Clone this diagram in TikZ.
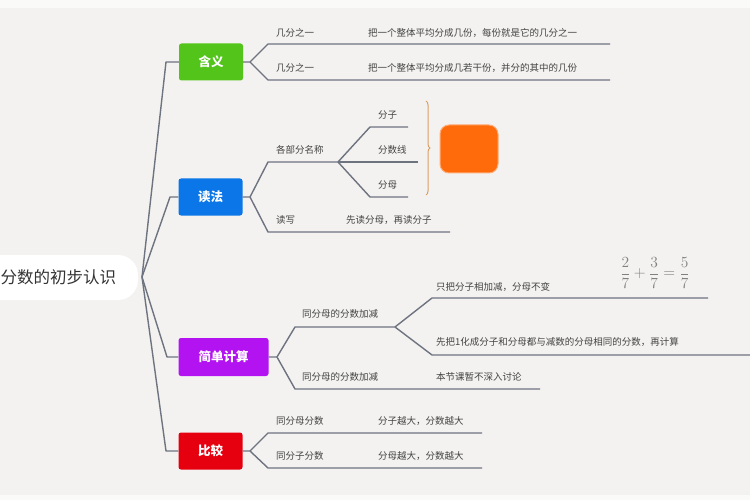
\RequirePackage{fix-cm}
\documentclass[tikz,border=0pt]{standalone}
\usepackage{fontspec}
\newfontfamily\cjk{Noto Sans CJK SC}
\usetikzlibrary{decorations.pathreplacing}
\definecolor{bg}{HTML}{F3F2F0}
\definecolor{ln}{HTML}{6E7380}
\definecolor{tx}{HTML}{444444}
\definecolor{cgreen}{HTML}{52C41A}
\definecolor{cblue}{HTML}{0B76E8}
\definecolor{cpurple}{HTML}{B313F0}
\definecolor{cred}{HTML}{E6000F}
\definecolor{corange}{HTML}{FF6A0A}
\definecolor{cbrace}{HTML}{D9A066}
\begin{document}
\begin{tikzpicture}[x=1pt,y=-1pt,
  conn/.style={draw=ln,line width=1.4pt,line join=round},
  lbl/.style={anchor=west,inner sep=0pt,text=tx,font=\cjk\fontsize{9.5}{11}\selectfont},
  topic/.style={rounded corners=2.5pt,text=white,inner sep=0pt,font=\cjk\bfseries\fontsize{12.5}{14}\selectfont}]
\useasboundingbox (0,0) rectangle (750,500);
\fill[bg] (0,0) rectangle (750,500);
\fill[white!60!bg] (0,0) rectangle (750,8);
\fill[white!60!bg] (0,495) rectangle (750,500);
% root
\fill[white,rounded corners=20pt] (-30,255) rectangle (138,300);
\node[anchor=west,inner sep=0pt,text=black!80,font=\cjk\fontsize{16.5}{18}\selectfont] (root) at (0.5,277) {分数的初步认识};
\coordinate (rj) at (142,277);
% main topics
\node[topic,fill=cgreen,minimum width=64pt,minimum height=37pt] (hy) at (211,62) {含义};
\node[topic,fill=cblue,minimum width=64pt,minimum height=37pt] (df) at (210.5,197) {读法};
\node[topic,fill=cpurple,minimum width=90pt,minimum height=38pt] (js) at (223.5,357) {简单计算};
\node[topic,fill=cred,minimum width=64pt,minimum height=37pt] (bj) at (210.5,451) {比较};
% root connectors
\draw[conn] (rj) -- (166,62) -- (hy.west);
\draw[conn] (rj) -- (170,197) -- (df.west);
\draw[conn] (rj) -- (167,357) -- (js.west);
\draw[conn] (rj) -- (166,451) -- (bj.west);
% 含义
\coordinate (hyj) at (250,62);
\draw[conn] (hy.east) -- (hyj) -- (268,44) -- (610,44);
\draw[conn] (hyj) -- (268,80) -- (610,80);
\node[lbl] (hy1) at (276,33) {几分之一};
\node[lbl] (hy1t) at (368,33) {把一个整体平均分成几份，每份就是它的几分之一};
\node[lbl] (hy2) at (276,68) {几分之一};
\node[lbl] (hy2t) at (368,68) {把一个整体平均分成几若干份，并分的其中的几份};
% 读法
\coordinate (dfj) at (250,197);
\coordinate (mcj) at (338,162);
\draw[conn] (df.east) -- (dfj) -- (268,162) -- (mcj);
\draw[conn] (dfj) -- (268,232) -- (450,232);
\node[lbl] (mc) at (276,150) {各部分名称};
\node[lbl] (dx) at (276,220) {读写};
\node[lbl] (dxt) at (346,220) {先读分母，再读分子};
\draw[conn] (mcj) -- (370,127) -- (408,127);
\draw[conn] (mcj) -- (418,162);
\draw[conn] (mcj) -- (370,197) -- (408,197);
\node[lbl] (fz) at (378,115) {分子};
\node[lbl] (fsx) at (378,150) {分数线};
\node[lbl] (fm) at (378,185) {分母};
\draw[cbrace,line width=1pt,decorate,decoration={brace,amplitude=4pt}] (426,101) -- (426,195);
\node[fill=corange,draw=corange!55!white,line width=1pt,rounded corners=9pt,minimum width=58pt,minimum height=48pt,inner sep=0pt] (ob) at (469,149) {};
% 简单计算
\coordinate (jsj) at (277,357);
\coordinate (tfj) at (395,327);
\draw[conn] (js.east) -- (jsj) -- (295,327) -- (tfj);
\draw[conn] (jsj) -- (295,389) -- (540,389);
\draw[conn] (tfj) -- (432,298) -- (708,298);
\draw[conn] (tfj) -- (432,355) -- (752,355);
\node[lbl] (tf1) at (302,314) {同分母的分数加减};
\node[lbl] (tf2) at (302,377) {同分母的分数加减};
\node[lbl] (r1) at (436,287) {只把分子相加减，分母不变};
\node[lbl] (r2) at (436,342) {先把1化成分子和分母都与减数的分母相同的分数，再计算};
\node[lbl] (r3) at (436,377) {本节课暂不深入讨论};
\node[anchor=center,inner sep=0pt,text=black!50,font=\fontsize{15.5}{18}\selectfont] (frac) at (655,273) {$\displaystyle\frac{2}{7}+\frac{3}{7}=\frac{5}{7}$};
% 比较
\coordinate (bjj) at (250,451);
\draw[conn] (bj.east) -- (bjj) -- (268,433) -- (482,433);
\draw[conn] (bjj) -- (268,468) -- (482,468);
\node[lbl] (b1) at (276,421) {同分母分数};
\node[lbl] (b1t) at (378,421) {分子越大，分数越大};
\node[lbl] (b2) at (276,456) {同分子分数};
\node[lbl] (b2t) at (378,456) {分母越大，分数越大};
\end{tikzpicture}
\end{document}
